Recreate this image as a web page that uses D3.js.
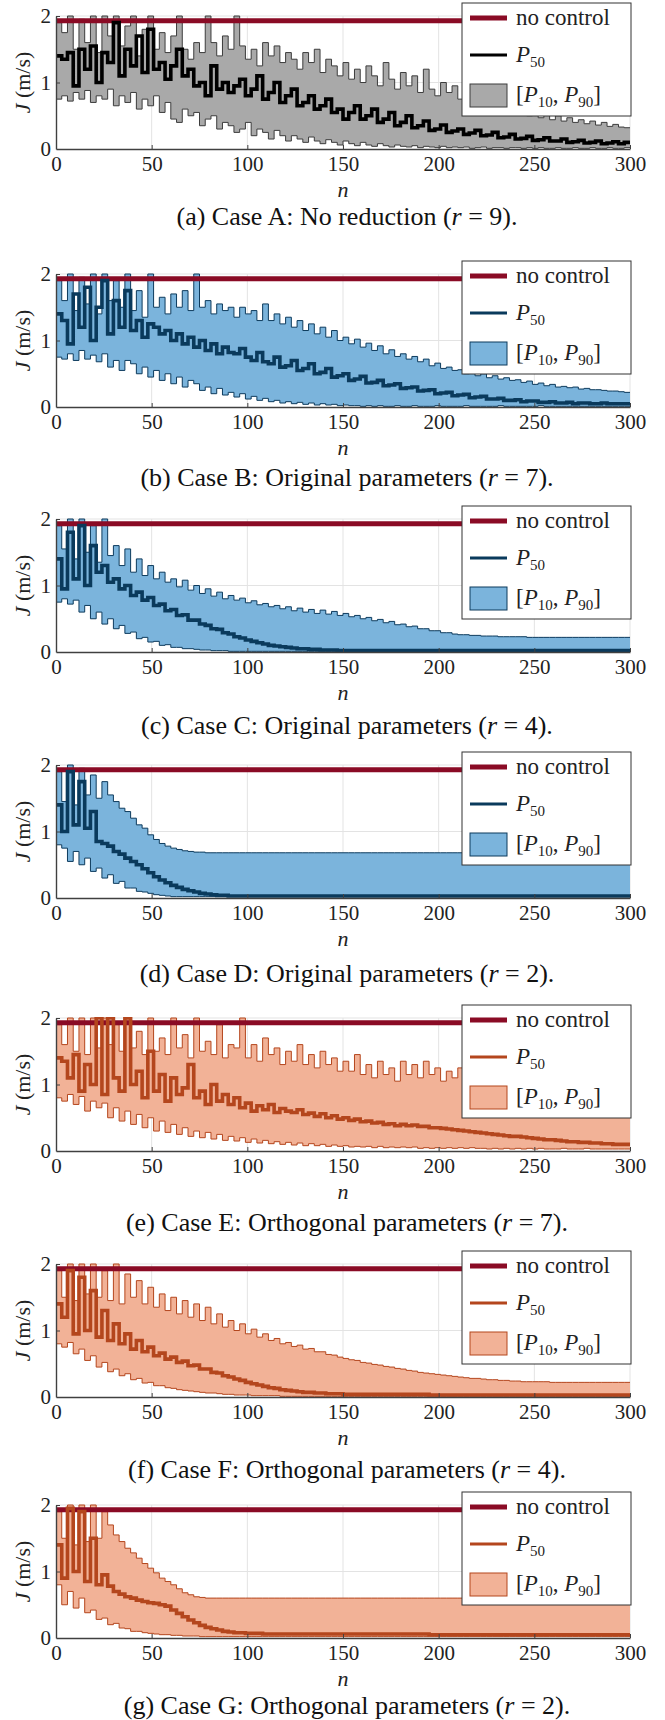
<!DOCTYPE html>
<html>
<head>
<meta charset="utf-8">
<script src="https://cdn.jsdelivr.net/npm/d3@7"></script>
<style>
  body { margin: 0; background: #fff; }
  text { font-family: "Liberation Serif", "Times New Roman", serif; }
</style>
</head>
<body>
<div id="chart"></div>
<script>
// every stored value covers nStep consecutive samples of n
const nStep = 3;
const nMax = 300;
const xTicks = [0, 50, 100, 150, 200, 250, 300];
const yTicks = [0, 1, 2];
const noControl = 1.93;

const captionLabels = ['(a) Case A: No reduction (', '(b) Case B: Original parameters (', '(c) Case C: Original parameters (',
  '(d) Case D: Original parameters (', '(e) Case E: Orthogonal parameters (', '(f) Case F: Orthogonal parameters (',
  '(g) Case G: Orthogonal parameters ('];
const captionR = [9, 7, 4, 2, 7, 4, 2];
const panelThemes = ['gray', 'blue', 'blue', 'blue', 'orange', 'orange', 'orange'];

// ---- Case A
const p90A = [1.90,1.75,2.00,1.50,1.95,1.60,2.00,1.45,2.00,1.70,
  2.00,1.55,1.85,2.00,1.40,1.80,2.00,1.50,1.75,1.45,
  1.70,2.00,1.50,1.35,1.60,1.45,2.00,1.60,1.40,1.70,
  1.50,2.00,1.55,1.35,1.50,1.25,1.60,1.40,1.55,1.30,
  1.45,1.35,1.20,1.45,1.30,1.50,1.15,1.35,1.25,1.10,
  1.30,1.05,1.20,1.00,1.25,1.10,0.95,1.30,1.05,0.90,
  1.15,0.95,1.10,0.85,1.20,0.90,0.80,1.00,0.85,0.95,
  0.75,0.85,0.70,0.80,0.65,0.75,0.60,0.70,0.58,0.66,
  0.55,0.60,0.50,0.58,0.47,0.52,0.44,0.50,0.42,0.47,
  0.40,0.44,0.38,0.42,0.36,0.40,0.34,0.37,0.33,0.32];
const p50A = [1.40,1.35,1.45,0.95,1.50,1.20,1.55,1.00,1.45,1.30,
  1.90,1.10,1.50,1.25,1.70,1.15,1.80,1.20,1.30,1.05,
  1.25,1.50,1.10,1.20,0.95,1.00,0.80,1.25,0.90,1.00,
  0.85,0.95,1.05,0.80,0.90,1.10,0.75,0.85,1.00,0.70,
  0.80,0.90,0.65,0.70,0.80,0.60,0.65,0.75,0.55,0.60,
  0.45,0.55,0.65,0.45,0.50,0.60,0.40,0.45,0.55,0.35,
  0.40,0.50,0.32,0.35,0.42,0.28,0.30,0.36,0.25,0.27,
  0.30,0.22,0.24,0.28,0.20,0.21,0.25,0.17,0.18,0.22,
  0.15,0.16,0.19,0.13,0.14,0.17,0.12,0.12,0.15,0.10,
  0.11,0.13,0.09,0.10,0.12,0.08,0.09,0.11,0.08,0.10];
const p10A = [0.75,0.80,0.72,0.85,0.75,0.88,0.70,0.80,0.75,0.90,
  0.65,0.80,0.70,0.85,0.60,0.75,0.65,0.80,0.55,0.70,
  0.45,0.40,0.60,0.50,0.55,0.35,0.45,0.50,0.30,0.40,
  0.35,0.25,0.30,0.40,0.20,0.30,0.25,0.15,0.28,0.20,
  0.12,0.20,0.15,0.10,0.18,0.12,0.08,0.14,0.10,0.06,
  0.12,0.08,0.05,0.10,0.06,0.04,0.08,0.05,0.03,0.06,
  0.04,0.03,0.05,0.02,0.04,0.03,0.02,0.04,0.02,0.03,
  0.02,0.03,0.01,0.02,0.03,0.01,0.02,0.02,0.01,0.02,
  0.02,0.01,0.02,0.01,0.02,0.01,0.01,0.02,0.01,0.01,
  0.02,0.01,0.01,0.02,0.01,0.01,0.02,0.01,0.01,0.02];

// ---- Case B
const p90B = [1.90,1.60,2.00,1.45,1.95,1.55,2.00,1.40,2.00,1.60,
  1.90,1.50,2.00,1.45,1.75,1.35,2.00,1.50,1.65,1.40,
  1.70,1.50,1.75,1.45,2.00,1.50,1.60,1.40,1.55,1.45,
  1.50,1.35,1.50,1.40,1.45,1.30,1.55,1.30,1.40,1.25,
  1.35,1.20,1.30,1.15,1.25,1.10,1.20,1.05,1.15,1.00,
  1.05,0.95,1.02,0.90,0.96,0.85,0.92,0.80,0.86,0.76,
  0.80,0.72,0.76,0.68,0.72,0.62,0.66,0.58,0.60,0.55,
  0.56,0.50,0.54,0.47,0.50,0.44,0.47,0.42,0.44,0.40,
  0.41,0.37,0.39,0.34,0.36,0.32,0.34,0.30,0.31,0.29,
  0.30,0.27,0.28,0.26,0.26,0.25,0.24,0.24,0.23,0.22];
const p50B = [1.40,1.30,0.95,1.70,1.20,1.80,1.00,1.50,1.90,1.10,
  1.60,1.20,1.75,1.15,1.30,1.05,1.25,1.20,1.10,1.15,
  1.00,1.10,0.95,1.05,0.90,1.00,0.85,0.95,0.80,0.90,
  0.82,0.80,0.88,0.75,0.70,0.82,0.68,0.65,0.75,0.60,
  0.62,0.70,0.55,0.58,0.65,0.50,0.52,0.58,0.45,0.47,
  0.50,0.40,0.42,0.46,0.36,0.37,0.40,0.32,0.33,0.35,
  0.28,0.29,0.30,0.24,0.25,0.26,0.20,0.21,0.22,0.17,
  0.18,0.19,0.14,0.15,0.16,0.12,0.12,0.13,0.10,0.10,
  0.11,0.08,0.09,0.09,0.07,0.07,0.08,0.06,0.06,0.07,
  0.05,0.06,0.06,0.05,0.05,0.06,0.05,0.05,0.05,0.05];
const p10B = [0.75,0.72,0.80,0.70,0.85,0.72,0.78,0.68,0.80,0.60,
  0.70,0.55,0.70,0.65,0.50,0.60,0.45,0.55,0.40,0.50,
  0.35,0.45,0.30,0.40,0.35,0.25,0.30,0.20,0.28,0.18,
  0.22,0.15,0.20,0.12,0.16,0.10,0.13,0.08,0.10,0.06,
  0.08,0.05,0.07,0.04,0.06,0.03,0.05,0.03,0.04,0.02,
  0.03,0.02,0.02,0.01,0.02,0.01,0.02,0.01,0.01,0.02,
  0.01,0.01,0.02,0.01,0.01,0.01,0.02,0.01,0.01,0.01,
  0.01,0.02,0.01,0.01,0.01,0.01,0.01,0.02,0.01,0.01,
  0.01,0.01,0.01,0.01,0.02,0.01,0.01,0.01,0.01,0.01,
  0.01,0.01,0.01,0.01,0.01,0.01,0.01,0.01,0.01,0.01];

// ---- Case C
const p90C = [1.90,1.55,2.00,1.40,2.00,1.50,1.90,1.35,2.00,1.45,
  1.60,1.30,1.55,1.20,1.40,1.15,1.30,1.10,1.20,1.05,
  1.10,0.98,1.08,0.93,1.00,0.88,0.95,0.84,0.90,0.80,
  0.85,0.78,0.81,0.74,0.77,0.71,0.73,0.68,0.70,0.65,
  0.68,0.62,0.66,0.60,0.64,0.58,0.63,0.57,0.61,0.55,
  0.58,0.53,0.55,0.50,0.52,0.47,0.49,0.44,0.46,0.41,
  0.42,0.38,0.39,0.35,0.35,0.32,0.32,0.29,0.29,0.27,
  0.26,0.26,0.25,0.25,0.24,0.24,0.24,0.23,0.23,0.23,
  0.23,0.23,0.22,0.22,0.22,0.22,0.22,0.22,0.22,0.22,
  0.22,0.22,0.22,0.22,0.22,0.22,0.22,0.22,0.22,0.22];
const p50C = [1.40,0.95,1.80,1.10,1.90,1.00,1.60,1.20,1.30,1.05,
  1.10,0.95,1.00,0.85,0.90,0.78,0.82,0.70,0.72,0.62,
  0.64,0.55,0.56,0.48,0.48,0.42,0.40,0.35,0.34,0.29,
  0.27,0.23,0.21,0.18,0.16,0.14,0.12,0.10,0.09,0.08,
  0.07,0.06,0.05,0.05,0.04,0.04,0.03,0.03,0.03,0.02,
  0.02,0.02,0.02,0.02,0.02,0.02,0.02,0.02,0.02,0.02,
  0.02,0.02,0.02,0.02,0.02,0.02,0.02,0.02,0.02,0.02,
  0.02,0.02,0.02,0.02,0.02,0.02,0.02,0.02,0.02,0.02,
  0.02,0.02,0.02,0.02,0.02,0.02,0.02,0.02,0.02,0.02,
  0.02,0.02,0.02,0.02,0.02,0.02,0.02,0.02,0.02,0.02];
const p10C = [0.75,0.80,0.72,0.78,0.60,0.70,0.50,0.60,0.42,0.50,
  0.35,0.40,0.28,0.30,0.20,0.22,0.15,0.16,0.10,0.11,
  0.07,0.07,0.05,0.05,0.04,0.03,0.03,0.02,0.02,0.02,
  0.01,0.01,0.01,0.01,0.01,0.01,0.01,0.01,0.01,0.01,
  0.01,0.01,0.01,0.01,0.01,0.01,0.01,0.01,0.01,0.01,
  0.01,0.01,0.01,0.01,0.01,0.01,0.01,0.01,0.01,0.01,
  0.01,0.01,0.01,0.01,0.01,0.01,0.01,0.01,0.01,0.01,
  0.01,0.01,0.01,0.01,0.01,0.01,0.01,0.01,0.01,0.01,
  0.01,0.01,0.01,0.01,0.01,0.01,0.01,0.01,0.01,0.01,
  0.01,0.01,0.01,0.01,0.01,0.01,0.01,0.01,0.01,0.01];

// ---- Case D
const p90D = [1.90,1.45,2.00,1.40,1.95,1.55,1.85,1.50,1.75,1.55,
  1.45,1.35,1.30,1.20,1.10,1.05,0.95,0.88,0.82,0.78,
  0.75,0.73,0.71,0.70,0.69,0.69,0.68,0.68,0.68,0.68,
  0.68,0.68,0.68,0.68,0.68,0.68,0.68,0.68,0.68,0.68,
  0.68,0.68,0.68,0.68,0.68,0.68,0.68,0.68,0.68,0.68,
  0.68,0.68,0.68,0.68,0.68,0.68,0.68,0.68,0.68,0.68,
  0.68,0.68,0.68,0.68,0.68,0.68,0.68,0.68,0.68,0.68,
  0.68,0.68,0.68,0.68,0.68,0.68,0.68,0.68,0.68,0.68,
  0.68,0.68,0.68,0.68,0.68,0.68,0.68,0.68,0.68,0.68,
  0.68,0.68,0.68,0.68,0.68,0.68,0.68,0.68,0.68,0.68];
const p50D = [1.40,1.00,1.90,1.10,1.75,1.05,1.30,0.85,0.82,0.78,
  0.70,0.66,0.60,0.55,0.50,0.44,0.38,0.32,0.27,0.23,
  0.19,0.16,0.13,0.11,0.09,0.07,0.06,0.05,0.04,0.04,
  0.03,0.03,0.03,0.03,0.03,0.03,0.03,0.03,0.03,0.03,
  0.03,0.03,0.03,0.03,0.03,0.03,0.03,0.03,0.03,0.03,
  0.03,0.03,0.03,0.03,0.03,0.03,0.03,0.03,0.03,0.03,
  0.03,0.03,0.03,0.03,0.03,0.03,0.03,0.03,0.03,0.03,
  0.03,0.03,0.03,0.03,0.03,0.03,0.03,0.03,0.03,0.03,
  0.03,0.03,0.03,0.03,0.03,0.03,0.03,0.03,0.03,0.03,
  0.03,0.03,0.03,0.03,0.03,0.03,0.03,0.03,0.03,0.03];
const p10D = [0.80,0.75,0.55,0.70,0.50,0.60,0.40,0.45,0.30,0.35,
  0.22,0.25,0.15,0.15,0.10,0.09,0.07,0.05,0.04,0.03,
  0.02,0.02,0.02,0.02,0.02,0.02,0.02,0.02,0.02,0.02,
  0.02,0.02,0.02,0.02,0.02,0.02,0.02,0.02,0.02,0.02,
  0.02,0.02,0.02,0.02,0.02,0.02,0.02,0.02,0.02,0.02,
  0.02,0.02,0.02,0.02,0.02,0.02,0.02,0.02,0.02,0.02,
  0.02,0.02,0.02,0.02,0.02,0.02,0.02,0.02,0.02,0.02,
  0.02,0.02,0.02,0.02,0.02,0.02,0.02,0.02,0.02,0.02,
  0.02,0.02,0.02,0.02,0.02,0.02,0.02,0.02,0.02,0.02,
  0.02,0.02,0.02,0.02,0.02,0.02,0.02,0.02,0.02,0.02];

// ---- Case E
const p90E = [1.90,1.60,2.00,1.50,2.00,1.45,2.00,1.55,2.00,1.60,
  1.90,1.50,2.00,1.55,1.80,1.45,2.00,1.50,1.70,1.45,
  2.00,1.55,1.75,1.40,2.00,1.50,1.65,1.45,1.90,1.40,
  1.60,1.55,2.00,1.40,1.60,1.35,1.70,1.45,1.55,1.30,
  1.50,1.35,1.60,1.30,1.45,1.25,1.50,1.30,1.40,1.20,
  1.35,1.20,1.45,1.15,1.30,1.10,1.35,1.15,1.25,1.05,
  1.35,1.15,1.30,1.10,1.35,1.15,1.25,1.05,1.20,1.10,
  1.25,1.05,1.15,1.00,1.20,1.02,1.10,0.95,1.15,1.00,
  1.05,0.92,1.10,0.95,1.00,0.88,1.05,0.90,0.98,0.85,
  1.00,0.88,0.92,0.80,0.95,0.82,0.88,0.78,0.80,0.62];
const p50E = [1.40,1.35,1.10,1.45,0.90,1.30,1.00,2.00,0.85,2.00,
  1.10,0.90,2.00,1.00,1.20,0.80,1.50,0.90,1.15,0.75,
  1.10,0.85,0.95,1.30,0.80,0.90,0.70,1.00,0.75,0.85,
  0.70,0.80,0.65,0.72,0.60,0.68,0.62,0.70,0.58,0.64,
  0.60,0.58,0.62,0.55,0.57,0.52,0.56,0.50,0.53,0.48,
  0.50,0.46,0.48,0.44,0.45,0.42,0.43,0.40,0.41,0.38,
  0.40,0.38,0.39,0.37,0.37,0.35,0.35,0.34,0.33,0.32,
  0.31,0.30,0.29,0.28,0.27,0.26,0.25,0.24,0.23,0.22,
  0.22,0.21,0.20,0.19,0.18,0.17,0.17,0.16,0.15,0.14,
  0.14,0.13,0.13,0.12,0.12,0.11,0.11,0.10,0.10,0.10];
const p10E = [0.80,0.75,0.85,0.70,0.82,0.60,0.75,0.65,0.72,0.50,
  0.65,0.45,0.60,0.40,0.55,0.35,0.50,0.30,0.45,0.28,
  0.40,0.25,0.35,0.22,0.30,0.20,0.28,0.18,0.25,0.16,
  0.22,0.15,0.20,0.13,0.18,0.12,0.16,0.11,0.14,0.10,
  0.13,0.09,0.12,0.08,0.11,0.08,0.10,0.07,0.09,0.07,
  0.08,0.06,0.07,0.06,0.07,0.05,0.07,0.05,0.06,0.05,
  0.06,0.05,0.06,0.04,0.05,0.04,0.05,0.04,0.05,0.04,
  0.05,0.04,0.05,0.04,0.04,0.03,0.04,0.03,0.04,0.03,
  0.04,0.03,0.04,0.03,0.04,0.03,0.03,0.03,0.04,0.03,
  0.03,0.03,0.04,0.03,0.03,0.03,0.03,0.03,0.03,0.03];

// ---- Case F
const p90F = [1.90,1.50,2.00,1.45,2.00,1.55,2.00,1.50,1.90,1.45,
  2.00,1.40,1.85,1.50,1.75,1.40,1.65,1.35,1.55,1.30,
  1.50,1.25,1.45,1.20,1.40,1.15,1.35,1.10,1.25,1.05,
  1.15,1.00,1.10,0.95,1.02,0.90,0.95,0.85,0.88,0.80,
  0.82,0.76,0.78,0.72,0.73,0.68,0.68,0.64,0.63,0.60,
  0.58,0.56,0.55,0.52,0.51,0.49,0.48,0.46,0.45,0.43,
  0.42,0.40,0.39,0.37,0.36,0.35,0.34,0.33,0.32,0.31,
  0.30,0.29,0.28,0.28,0.27,0.26,0.26,0.25,0.25,0.24,
  0.24,0.23,0.23,0.23,0.23,0.23,0.22,0.22,0.22,0.22,
  0.22,0.22,0.22,0.22,0.22,0.22,0.22,0.22,0.22,0.22];
const p50F = [1.40,1.20,1.90,0.95,1.80,1.00,1.60,0.90,1.30,0.85,
  1.10,0.80,0.95,0.72,0.85,0.68,0.75,0.62,0.66,0.57,
  0.60,0.52,0.54,0.47,0.48,0.42,0.42,0.37,0.36,0.32,
  0.30,0.27,0.25,0.22,0.20,0.18,0.16,0.14,0.13,0.11,
  0.10,0.09,0.08,0.07,0.07,0.06,0.06,0.05,0.05,0.05,
  0.04,0.04,0.04,0.04,0.04,0.04,0.04,0.04,0.04,0.04,
  0.04,0.04,0.04,0.04,0.04,0.03,0.03,0.03,0.03,0.03,
  0.03,0.03,0.03,0.03,0.03,0.03,0.03,0.03,0.03,0.03,
  0.03,0.03,0.03,0.03,0.03,0.03,0.03,0.03,0.03,0.03,
  0.03,0.03,0.03,0.03,0.03,0.03,0.03,0.03,0.03,0.03];
const p10F = [0.80,0.75,0.82,0.65,0.72,0.55,0.62,0.45,0.52,0.38,
  0.42,0.32,0.35,0.26,0.28,0.21,0.22,0.17,0.17,0.14,
  0.13,0.11,0.10,0.09,0.08,0.07,0.06,0.06,0.05,0.04,
  0.04,0.03,0.03,0.03,0.02,0.02,0.02,0.02,0.02,0.01,
  0.01,0.01,0.01,0.01,0.01,0.01,0.01,0.01,0.01,0.01,
  0.01,0.01,0.01,0.01,0.01,0.01,0.01,0.01,0.01,0.01,
  0.01,0.01,0.01,0.01,0.01,0.01,0.01,0.01,0.01,0.01,
  0.01,0.01,0.01,0.01,0.01,0.01,0.01,0.01,0.01,0.01,
  0.01,0.01,0.01,0.01,0.01,0.01,0.01,0.01,0.01,0.01,
  0.01,0.01,0.01,0.01,0.01,0.01,0.01,0.01,0.01,0.01];

// ---- Case G
const p90G = [1.90,1.50,2.00,1.40,2.00,1.45,2.00,1.50,1.90,1.70,
  1.55,1.45,1.35,1.28,1.20,1.12,1.05,0.98,0.90,0.85,
  0.80,0.74,0.68,0.65,0.62,0.61,0.60,0.60,0.60,0.60,
  0.60,0.60,0.60,0.60,0.60,0.60,0.60,0.60,0.60,0.60,
  0.60,0.60,0.60,0.60,0.60,0.60,0.60,0.60,0.60,0.60,
  0.60,0.60,0.60,0.60,0.60,0.60,0.60,0.60,0.60,0.60,
  0.60,0.60,0.60,0.60,0.60,0.60,0.60,0.60,0.60,0.60,
  0.60,0.60,0.60,0.60,0.60,0.60,0.60,0.60,0.60,0.60,
  0.60,0.60,0.60,0.60,0.60,0.60,0.60,0.60,0.60,0.60,
  0.60,0.60,0.60,0.60,0.60,0.60,0.60,0.60,0.60,0.60];
const p50G = [1.40,0.90,1.95,1.00,1.90,0.85,1.50,0.80,0.95,0.78,
  0.70,0.66,0.62,0.60,0.57,0.55,0.53,0.52,0.50,0.48,
  0.42,0.37,0.32,0.27,0.23,0.19,0.16,0.14,0.12,0.10,
  0.09,0.08,0.08,0.07,0.07,0.07,0.06,0.06,0.06,0.06,
  0.06,0.06,0.06,0.06,0.06,0.06,0.06,0.06,0.06,0.06,
  0.06,0.06,0.06,0.06,0.06,0.06,0.06,0.06,0.06,0.06,
  0.06,0.06,0.06,0.06,0.06,0.05,0.05,0.05,0.05,0.05,
  0.05,0.05,0.05,0.05,0.05,0.05,0.05,0.05,0.05,0.05,
  0.05,0.05,0.05,0.05,0.05,0.05,0.05,0.05,0.05,0.05,
  0.05,0.05,0.05,0.05,0.05,0.05,0.05,0.05,0.05,0.05];
const p10G = [0.80,0.50,0.70,0.45,0.60,0.38,0.42,0.28,0.30,0.20,
  0.22,0.15,0.14,0.10,0.10,0.08,0.07,0.06,0.05,0.05,
  0.04,0.04,0.03,0.03,0.03,0.02,0.02,0.02,0.02,0.02,
  0.02,0.02,0.02,0.02,0.02,0.02,0.02,0.02,0.02,0.02,
  0.02,0.02,0.02,0.02,0.02,0.02,0.02,0.02,0.02,0.02,
  0.02,0.02,0.02,0.02,0.02,0.02,0.02,0.02,0.02,0.02,
  0.02,0.02,0.02,0.02,0.02,0.02,0.02,0.02,0.02,0.02,
  0.02,0.02,0.02,0.02,0.02,0.02,0.02,0.02,0.02,0.02,
  0.02,0.02,0.02,0.02,0.02,0.02,0.02,0.02,0.02,0.02,
  0.02,0.02,0.02,0.02,0.02,0.02,0.02,0.02,0.02,0.02];

const p10Series = [p10A, p10B, p10C, p10D, p10E, p10F, p10G];
const p50Series = [p50A, p50B, p50C, p50D, p50E, p50F, p50G];
const p90Series = [p90A, p90B, p90C, p90D, p90E, p90F, p90G];

/* layout */
const width = 665;
const height = 1720;
const plotLeft = 56;
const plotRight = 630;
const plotHeight = 133;
const panelTops = [16, 274, 519, 765, 1018, 1264, 1505];
const captionBaselines = [225, 486, 734, 982, 1231, 1478, 1714];
const noControlColor = '#8a0b25';
const gridColor = '#e3e3e3';
const axisColor = '#404040';
const tickFont = '21px';
const labelFont = '22px';
const legendFont = '23px';
const captionFont = '26px';

const themes = {
  gray: {fill: '#a9a9a9', edge: '#3c3c3c', median: '#000000'},
  blue: {fill: '#7bb4dc', edge: '#0d3b5d', median: '#0a3a5c'},
  orange: {fill: '#f2b297', edge: '#b4461d', median: '#b4461d'}
};

const xScale = d3.scaleLinear().domain([0, nMax]).range([plotLeft, plotRight]);
const yScale = d3.scaleLinear().domain([0, 2]).range([plotHeight, 0]);

function toSteps(values) {
  const pts = values.map((v, i) => ({n: i * nStep, v}));
  pts.push({n: nMax, v: values[values.length - 1]});
  return pts;
}

const stepLine = d3.line()
  .x(d => xScale(d.n))
  .y(d => yScale(d.v))
  .curve(d3.curveStepAfter);

const bandArea = d3.area()
  .x(d => xScale(d.n))
  .y0(d => yScale(d.lo))
  .y1(d => yScale(d.hi))
  .curve(d3.curveStepAfter);

const svg = d3.select('#chart')
  .append('svg')
  .attr('width', width)
  .attr('height', height);

function addSub(text, main, sub) {
  text.append('tspan').style('font-style', 'italic').text(main);
  text.append('tspan').attr('dy', 5).style('font-size', '15px').text(sub);
  return text.append('tspan').attr('dy', -5);
}

function renderGrid(g) {
  g.append('g')
    .selectAll('line')
    .data(xTicks.slice(1))
    .join('line')
    .attr('x1', d => xScale(d)).attr('x2', d => xScale(d))
    .attr('y1', 0).attr('y2', plotHeight)
    .attr('stroke', gridColor);
  g.append('g')
    .selectAll('line')
    .data(yTicks.slice(1))
    .join('line')
    .attr('x1', plotLeft).attr('x2', plotRight)
    .attr('y1', d => yScale(d)).attr('y2', d => yScale(d))
    .attr('stroke', gridColor);
}

function renderAxis(g) {
  const xAxis = g.append('g')
    .attr('transform', `translate(0, ${plotHeight})`)
    .call(d3.axisBottom(xScale).tickValues(xTicks).tickFormat(d3.format('d'))
      .tickSizeInner(-4).tickSizeOuter(0).tickPadding(7));
  const yAxis = g.append('g')
    .attr('transform', `translate(${plotLeft}, 0)`)
    .call(d3.axisLeft(yScale).tickValues(yTicks).tickFormat(d3.format('d'))
      .tickSizeInner(-4).tickSizeOuter(0).tickPadding(5));

  [xAxis, yAxis].forEach(ax => {
    ax.attr('font-family', null);
    ax.select('.domain').attr('stroke', axisColor).attr('stroke-width', 1.4);
    ax.selectAll('line').attr('stroke', axisColor);
    ax.selectAll('text')
      .style('font-family', '"Liberation Serif", serif')
      .style('font-size', tickFont)
      .attr('fill', '#222');
  });
  yAxis.selectAll('.tick').filter(d => d === 0).select('line').remove();
  xAxis.selectAll('.tick').filter(d => d === 0).select('line').remove();

  g.append('text')
    .attr('transform', `translate(30, ${plotHeight / 2}) rotate(-90)`)
    .attr('text-anchor', 'middle')
    .style('font-size', labelFont)
    .attr('fill', '#222')
    .call(t => {
      t.append('tspan').style('font-style', 'italic').text('J');
      t.append('tspan').text(' (m/s)');
    });

  g.append('text')
    .attr('x', (plotLeft + plotRight) / 2)
    .attr('y', plotHeight + 48)
    .attr('text-anchor', 'middle')
    .style('font-size', labelFont)
    .style('font-style', 'italic')
    .attr('fill', '#222')
    .text('n');
}

function renderLegend(g, theme) {
  const legend = g.append('g')
    .attr('class', 'legend')
    .attr('transform', 'translate(462, -13)');

  legend.append('rect')
    .attr('width', 169).attr('height', 113)
    .attr('fill', '#fff').attr('stroke', '#333').attr('stroke-width', 1);

  legend.append('line')
    .attr('x1', 8).attr('x2', 45).attr('y1', 15).attr('y2', 15)
    .attr('stroke', noControlColor).attr('stroke-width', 5);
  legend.append('line')
    .attr('x1', 8).attr('x2', 45).attr('y1', 52).attr('y2', 52)
    .attr('stroke', theme.median).attr('stroke-width', 3);
  legend.append('rect')
    .attr('x', 8).attr('y', 81).attr('width', 37).attr('height', 23)
    .attr('fill', theme.fill).attr('stroke', theme.edge).attr('stroke-width', 1);

  const label = (y) => legend.append('text')
    .attr('x', 54).attr('y', y)
    .style('font-size', legendFont)
    .attr('fill', '#222');

  label(22).text('no control');
  addSub(label(59), 'P', '50');
  const t = label(99);
  t.append('tspan').text('[');
  addSub(t, 'P', '10').text(', ');
  addSub(t, 'P', '90').text(']');
}

function renderPanel(i) {
  const theme = themes[panelThemes[i]];
  const g = svg.append('g')
    .attr('class', 'panel')
    .attr('transform', `translate(0, ${panelTops[i]})`);

  const clipId = `clip-${i}`;
  g.append('clipPath').attr('id', clipId)
    .append('rect')
    .attr('x', plotLeft).attr('y', -1)
    .attr('width', plotRight - plotLeft).attr('height', plotHeight + 2);

  renderGrid(g);

  const lo = toSteps(p10Series[i]);
  const hi = toSteps(p90Series[i]);
  const band = lo.map((d, k) => ({n: d.n, lo: d.v, hi: hi[k].v}));

  const plot = g.append('g').attr('clip-path', `url(#${clipId})`);

  plot.append('path')
    .datum(band)
    .attr('d', bandArea)
    .attr('fill', theme.fill);
  plot.append('path')
    .datum(hi)
    .attr('d', stepLine)
    .attr('fill', 'none').attr('stroke', theme.edge).attr('stroke-width', 1);
  plot.append('path')
    .datum(lo)
    .attr('d', stepLine)
    .attr('fill', 'none').attr('stroke', theme.edge).attr('stroke-width', 1);

  plot.append('line')
    .attr('x1', xScale(0)).attr('x2', xScale(nMax))
    .attr('y1', yScale(noControl)).attr('y2', yScale(noControl))
    .attr('stroke', noControlColor).attr('stroke-width', 5);

  plot.append('path')
    .datum(toSteps(p50Series[i]))
    .attr('d', stepLine)
    .attr('fill', 'none').attr('stroke', theme.median).attr('stroke-width', 3.6);

  renderAxis(g);
  renderLegend(g, theme);

  const caption = svg.append('text')
    .attr('x', 347)
    .attr('y', captionBaselines[i])
    .attr('text-anchor', 'middle')
    .style('font-size', captionFont)
    .attr('fill', '#111');
  caption.append('tspan').text(captionLabels[i]);
  caption.append('tspan').style('font-style', 'italic').text('r');
  caption.append('tspan').text(` = ${captionR[i]}).`);
}

panelTops.forEach((top, i) => renderPanel(i));
</script>
</body>
</html>
